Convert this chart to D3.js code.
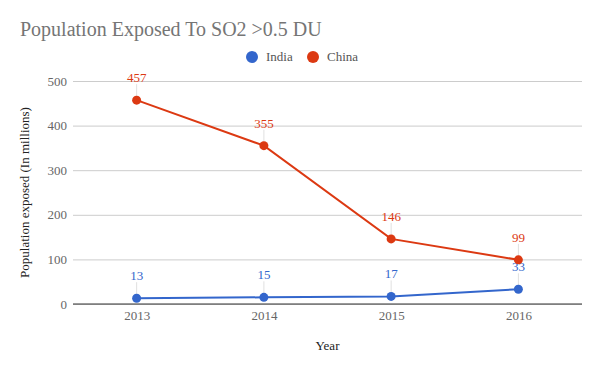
<!DOCTYPE html>
<html>
<head>
<meta charset="utf-8">
<script src="https://cdn.jsdelivr.net/npm/d3@7"></script>
<style>
body { margin: 0; background: #fff; }
svg { font-family: "Liberation Serif", "Times New Roman", serif; }
</style>
</head>
<body>
<div class="visHolder"></div>
<script>
var years = ["2013", "2014", "2015", "2016"]
var india = [13, 15, 17, 33]
var china = [457, 355, 146, 99]
var yTicks = [0, 100, 200, 300, 400, 500]

var width = 600
height = 371
var margin = {left: 73, right: 18, top: 81, bottom: 67}

var svg = d3.select('.visHolder')
    .append('svg')
    .attr('width', width)
    .attr('height', height)

var xScale = d3.scalePoint()
    .domain(years)
    .range([margin.left, width - margin.right])
    .padding(0.5)

var yScale = d3.scaleLinear()
    .domain([0, 500])
    .range([height - margin.bottom, margin.top])

// title
svg.append('text')
    .attr('x', 20)
    .attr('y', 36)
    .style('font-size', '20px')
    .style('fill', '#757575')
    .text('Population Exposed To SO2 >0.5 DU')

// legend
var series = [
    {name: 'India', values: india, color: '#3366cc'},
    {name: 'China', values: china, color: '#dc3912'}
]
var legendX = [252, 313]
series.forEach(function(s, i) {
    svg.append('circle')
        .attr('cx', legendX[i])
        .attr('cy', 57)
        .attr('r', 6)
        .style('fill', s.color)
    svg.append('text')
        .attr('x', legendX[i] + 14)
        .attr('y', 61)
        .style('font-size', '13px')
        .style('fill', '#555')
        .text(s.name)
})

// grid + y axis labels
var yAxis = svg.append('g')
    .attr('transform', `translate(${margin.left},0)`)
    .call(d3.axisLeft(yScale).tickValues(yTicks).tickSize(-(width - margin.left - margin.right)).tickPadding(6))
yAxis.attr('font-family', null)
yAxis.select('.domain').remove()
yAxis.selectAll('.tick line').style('stroke', '#ccc')
yAxis.selectAll('.tick text')
    .style('font-size', '13px')
    .style('fill', '#666')
    .attr('x', -6)

// annotation stems
series.forEach(function(s) {
    svg.append('g').selectAll('line')
        .data(s.values)
        .enter()
        .append('line')
        .attr('x1', (d, i) => xScale(years[i]))
        .attr('x2', (d, i) => xScale(years[i]))
        .attr('y1', (d) => yScale(d))
        .attr('y2', (d) => yScale(d) - 16)
        .style('stroke', '#e0e0e0')
        .style('stroke-width', 1)
})

// x axis
var xAxis = svg.append('g')
    .attr('transform', `translate(0,${height - margin.bottom})`)
    .call(d3.axisBottom(xScale).tickSize(0).tickPadding(7))
xAxis.attr('font-family', null)
xAxis.select('.domain')
    .attr('d', `M${margin.left},0H${width - margin.right}`)
    .style('stroke', '#333')
xAxis.selectAll('.tick text')
    .style('font-size', '13px')
    .style('fill', '#666')

// axis titles
svg.append('text')
    .attr('x', (margin.left + width - margin.right) / 2)
    .attr('y', 350)
    .attr('text-anchor', 'middle')
    .style('font-size', '13px')
    .style('fill', '#222')
    .text('Year')

svg.append('text')
    .attr('transform', `translate(29,${(margin.top + height - margin.bottom) / 2}) rotate(-90)`)
    .attr('text-anchor', 'middle')
    .style('font-size', '13px')
    .style('fill', '#222')
    .text('Population exposed (In millions)')

// lines + points + labels
var line = d3.line()
    .x((d, i) => xScale(years[i]))
    .y((d) => yScale(d))

series.forEach(function(s) {
    svg.append('path')
        .datum(s.values)
        .attr('d', line)
        .style('fill', 'none')
        .style('stroke', s.color)
        .style('stroke-width', 2)

    svg.append('g').selectAll('circle')
        .data(s.values)
        .enter()
        .append('circle')
        .attr('cx', (d, i) => xScale(years[i]))
        .attr('cy', (d) => yScale(d))
        .attr('r', 4.5)
        .style('fill', s.color)

    svg.append('g').selectAll('text')
        .data(s.values)
        .enter()
        .append('text')
        .attr('x', (d, i) => xScale(years[i]))
        .attr('y', (d) => yScale(d) - 18)
        .attr('text-anchor', 'middle')
        .style('font-size', '13px')
        .style('fill', s.color)
        .text((d) => d)
})
</script>
</body>
</html>
